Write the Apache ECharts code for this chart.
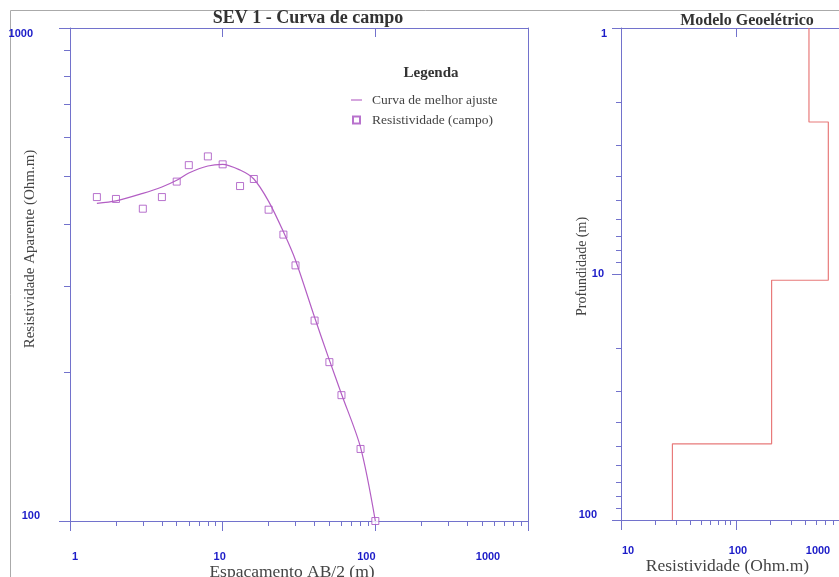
<!DOCTYPE html>
<html style="height: 100%">
   <head>
       <meta charset="utf-8">
   </head>
   <body style="height: 100%; margin: 0">
       <div id="container" style="width:839px;height:577px;"></div>
       <script src="https://cdn.jsdelivr.net/npm/echarts@6/dist/echarts.min.js"></script>
       <script type="text/javascript">
// SEV 1 - field data (AB/2 in m, apparent resistivity in Ohm.m)
var abHalf   = [1.5, 2, 3, 4, 5, 6, 8, 10, 13, 16, 20, 25, 30, 40, 50, 60, 80, 100];
var rhoField = [454, 450, 430, 454, 488, 527, 549, 529, 478, 494, 428, 381, 330, 255, 210, 180, 140, 100];
var rhoFit   = [441, 446, 462, 476, 491, 508, 525, 529, 515, 494, 445, 386, 338, 259, 212, 181, 141, 100];

// geoelectric model: layer resistivity and top depth
var layerRho = [431, 635, 204, 28];
var layerTop = [1, 2.41, 10.6, 49];
var maxDepth = 100;

// minor tick values
var minorX1 = [2,3,4,5,6,7,8,9,20,30,40,50,60,70,80,90,200,300,400,500,600,700,800,900];
var minorY1 = [200,300,400,500,600,700,800,900];
var minorX2 = [20,30,40,50,60,70,80,90,200,300,400,500,600,700,800,900];
var minorY2 = [2,3,4,5,6,7,8,9,20,30,40,50,60,70,80,90];

var axisColor = '#7272cc';
var labelColor = '#1c1cc8';
var serif = 'Liberation Serif';

var fieldData = abHalf.map(function (x, i) { return [x, rhoField[i]]; });
var fitData = abHalf.map(function (x, i) { return [x, rhoFit[i]]; });
var modelData = [];
layerRho.forEach(function (r, i) {
    var bottom = i < layerTop.length - 1 ? layerTop[i + 1] : maxDepth;
    modelData.push([r, layerTop[i]]);
    modelData.push([r, bottom]);
});

// label with little per-label shifts (rich padding)
function shiftedLabels(pads) {
    var rich = {};
    Object.keys(pads).forEach(function (k) {
        rich['l' + k] = {padding: pads[k]};
    });
    return {
        rich: rich,
        formatter: function (v) {
            var k = Math.round(v);
            return pads[k] ? '{l' + k + '|' + k + '}' : '' + k;
        }
    };
}

var labelBase = {color: labelColor, fontWeight: 'bold', fontSize: 11, fontFamily: 'Liberation Sans'};

function mk(base, extra) {
    var o = {};
    Object.keys(base).forEach(function (k) { o[k] = base[k]; });
    Object.keys(extra).forEach(function (k) { o[k] = extra[k]; });
    return o;
}

var lx1 = shiftedLabels({1: [0, 0, 0, 10], 10: [0, 6, 0, 0], 100: [0, 18, 0, 0], 1000: [0, 80, 0, 0]});
var ly1 = shiftedLabels({1000: [0, 7, 0, 0]});
var lx2 = shiftedLabels({10: [0, 0, 0, 14], 100: [0, 0, 0, 4], 1000: [0, 66, 0, 0]});
var ly2 = shiftedLabels({10: [0, 3, 0, 0], 100: [0, 10, 0, 0]});

function hiddenMinor(extra, values, len) {
    return mk({
        type: 'log', logBase: 10,
        axisLine: {show: false},
        axisLabel: {show: false},
        splitLine: {show: false},
        axisTick: {show: true, customValues: values, length: len, lineStyle: {color: axisColor}}
    }, extra);
}

var myChart = echarts.init(document.getElementById('container'));
var option = {
    backgroundColor: '#fff',
    animation: false,
    title: [
        {text: 'SEV 1 - Curva de campo', left: 303, top: 4, textAlign: 'center',
         textStyle: {fontFamily: serif, fontSize: 18, fontWeight: 'bold', color: '#333'}},
        {text: 'Modelo Geoelétrico', left: 742, top: 8, textAlign: 'center',
         textStyle: {fontFamily: serif, fontSize: 16, fontWeight: 'bold', color: '#333'}},
        {text: 'Legenda', left: 426, top: 61, textAlign: 'center',
         textStyle: {fontFamily: serif, fontSize: 15, fontWeight: 'bold', color: '#333'}}
    ],
    legend: {
        data: [
            {name: 'Curva de melhor ajuste', icon: 'path://M0,0H10V1H0Z'},
            {name: 'Resistividade (campo)', icon: 'path://M0,0H10V10H0Z'}
        ],
        orient: 'vertical',
        left: 351,
        top: 93,
        padding: 0,
        itemWidth: 11,
        itemHeight: 7,
        itemGap: 6,
        textStyle: {fontFamily: serif, fontSize: 13.5, color: '#444', padding: [0, 0, 0, 5]}
    },
    graphic: [{
        type: 'rect', z: -10,
        shape: {x: 10.5, y: 10.5, width: 1000, height: 1000},
        style: {fill: 'none', stroke: '#aaa', lineWidth: 1}
    }],
    grid: [
        {left: 70, top: 28, width: 458, height: 493, containLabel: false, outerBoundsMode: 'none'},
        {left: 621, top: 28, width: 230, height: 492, containLabel: false, outerBoundsMode: 'none'}
    ],
    xAxis: [
        {
            gridIndex: 0, type: 'log', logBase: 10, min: 1, max: 1000, position: 'bottom',
            name: 'Espacamento AB/2 (m)', nameLocation: 'middle', nameGap: 42, nameMoveOverlap: false,
            nameTextStyle: {fontFamily: serif, fontSize: 17.5, color: '#444', padding: [0, 14, 0, 0]},
            axisLine: {show: true, lineStyle: {color: axisColor}},
            axisTick: {show: true, length: 10, lineStyle: {color: axisColor}},
            axisLabel: mk(labelBase, {margin: 30, rich: lx1.rich, formatter: lx1.formatter}),
            splitLine: {show: false}
        },
        hiddenMinor({gridIndex: 0, min: 1, max: 1000, position: 'bottom'}, minorX1, 5),
        {
            gridIndex: 0, type: 'log', logBase: 10, min: 1, max: 1000, position: 'top',
            axisLine: {show: true, lineStyle: {color: axisColor}},
            axisTick: {show: true, inside: true, length: 9, lineStyle: {color: axisColor}},
            axisLabel: {show: false},
            splitLine: {show: false}
        },
        {
            gridIndex: 1, type: 'log', logBase: 10, min: 10, max: 1000, position: 'bottom',
            name: 'Resistividade (Ohm.m)', nameLocation: 'middle', nameGap: 37, nameMoveOverlap: false,
            nameTextStyle: {fontFamily: serif, fontSize: 17.5, color: '#444', padding: [0, 17, 0, 0]},
            axisLine: {show: true, lineStyle: {color: axisColor}},
            axisTick: {show: true, length: 10, lineStyle: {color: axisColor}},
            axisLabel: mk(labelBase, {margin: 25, rich: lx2.rich, formatter: lx2.formatter}),
            splitLine: {show: false}
        },
        hiddenMinor({gridIndex: 1, min: 10, max: 1000, position: 'bottom'}, minorX2, 5),
        {
            gridIndex: 1, type: 'log', logBase: 10, min: 10, max: 1000, position: 'top',
            axisLine: {show: true, lineStyle: {color: axisColor}},
            axisTick: {show: true, inside: true, length: 9, lineStyle: {color: axisColor}},
            axisLabel: {show: false},
            splitLine: {show: false}
        }
    ],
    yAxis: [
        {
            gridIndex: 0, type: 'log', logBase: 10, min: 100, max: 1000, position: 'left',
            name: 'Resistividade Aparente (Ohm.m)', nameLocation: 'middle', nameGap: 32, nameMoveOverlap: false,
            nameTextStyle: {fontFamily: serif, fontSize: 15, color: '#444', padding: [0, 0, 0, 51]},
            axisLine: {show: true, lineStyle: {color: axisColor}},
            axisTick: {show: true, length: 11, lineStyle: {color: axisColor}},
            axisLabel: mk(labelBase, {margin: 30, rich: ly1.rich, formatter: ly1.formatter,
                verticalAlignMinLabel: 'bottom', verticalAlignMaxLabel: 'top'}),
            splitLine: {show: false}
        },
        hiddenMinor({gridIndex: 0, min: 100, max: 1000, position: 'left'}, minorY1, 6),
        {
            gridIndex: 0, type: 'log', logBase: 10, min: 100, max: 1000, position: 'right',
            axisLine: {show: true, lineStyle: {color: axisColor}},
            axisTick: {show: false}, axisLabel: {show: false}, splitLine: {show: false}
        },
        {
            gridIndex: 1, type: 'log', logBase: 10, min: 1, max: 100, inverse: true, position: 'left',
            name: 'Profundidade (m)', nameLocation: 'middle', nameGap: 32, nameMoveOverlap: false,
            nameTextStyle: {fontFamily: serif, fontSize: 14, color: '#444', padding: [0, 0, 0, 15]},
            axisLine: {show: true, lineStyle: {color: axisColor}},
            axisTick: {show: true, length: 9, lineStyle: {color: axisColor}},
            axisLabel: mk(labelBase, {margin: 14, rich: ly2.rich, formatter: ly2.formatter,
                verticalAlignMinLabel: 'top', verticalAlignMaxLabel: 'bottom'}),
            splitLine: {show: false}
        },
        hiddenMinor({gridIndex: 1, min: 1, max: 100, inverse: true, position: 'left'}, minorY2, 5)
    ],
    series: [
        {
            name: 'Curva de melhor ajuste',
            type: 'line',
            xAxisIndex: 0, yAxisIndex: 0,
            data: fitData,
            smooth: 0.3,
            symbol: 'none',
            itemStyle: {color: '#b35ec4'},
            lineStyle: {color: '#b35ec4', width: 1.2}
        },
        {
            name: 'Resistividade (campo)',
            type: 'scatter',
            xAxisIndex: 0, yAxisIndex: 0,
            data: fieldData,
            symbol: 'rect',
            symbolSize: 7,
            itemStyle: {color: '#fff', borderColor: '#a64fc0', borderWidth: 1}
        },
        {
            name: 'Modelo',
            type: 'line',
            xAxisIndex: 3, yAxisIndex: 3,
            data: modelData,
            symbol: 'none',
            itemStyle: {color: '#e87a7a'},
            lineStyle: {color: '#e87a7a', width: 1.2}
        }
    ]
};
myChart.setOption(option);
       </script>
   </body>
</html>
